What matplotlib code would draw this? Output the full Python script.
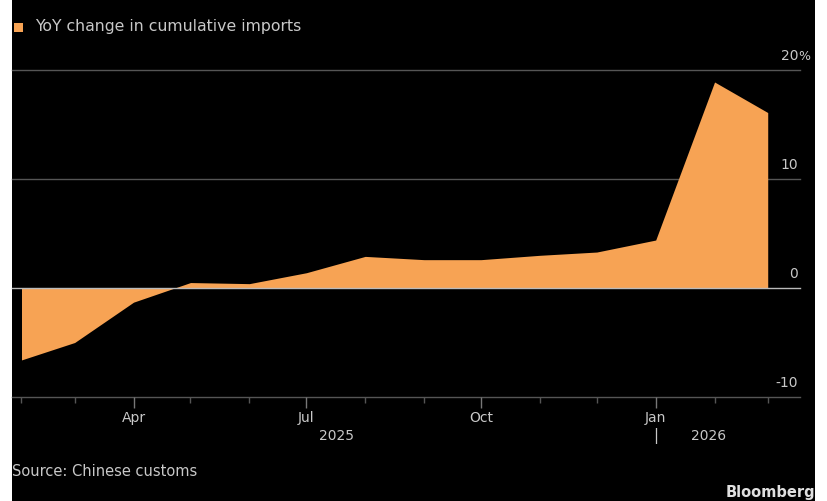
"""YoY change in cumulative imports — Bloomberg-style dark area chart."""
import matplotlib
matplotlib.use("Agg")
import matplotlib.pyplot as plt
import matplotlib.dates as mdates
import numpy as np
import pandas as pd
from matplotlib.patches import Rectangle

# monthly readings, % YoY change in cumulative imports
months = pd.to_datetime(["2025-02-01", "2025-03-01", "2025-04-01", "2025-05-01",
                         "2025-06-01", "2025-07-01", "2025-08-01", "2025-09-01",
                         "2025-10-01", "2025-11-01", "2025-12-01", "2026-01-01",
                         "2026-02-01", "2026-03-01"])
yoy = [-6.6, -5.0, -1.3, 0.5, 0.4, 1.4, 2.9, 2.6,
       2.6, 3.0, 3.3, 4.4, 18.9, 16.1]

y_ticks = [-10, 0, 10, 20]
y_labels = ["-10", "0", "10", "20"]
x_start, x_end = pd.Timestamp("2025-01-27"), pd.Timestamp("2026-03-18")

ORANGE = "#F7A354"
TXT = "#C8C8C8"
W, H = 827, 501

fig = plt.figure(figsize=(W / 100, H / 100), dpi=100)
fig.patch.set_facecolor("white")
# black panel (thin white strips left and right)
fig.patches.append(Rectangle((12 / W, 0), (815 - 12) / W, 1, transform=fig.transFigure,
                             facecolor="black", edgecolor="none", zorder=-5))

ax = fig.add_axes([12 / W, 1 - 397 / H, (800 - 12) / W, (397 - 70) / H])
ax.set_facecolor("none")
ax.set_zorder(2)

ax.fill_between(months, 0, yoy, color=ORANGE, linewidth=0, zorder=2)

ax.set_xlim(x_start, x_end)
ax.set_ylim(-10, 20)

# gridlines + right-side labels sitting above them (the % hangs past the edge)
yt = ax.get_yaxis_transform()
for v, lab in zip(y_ticks, y_labels):
    col = "#BBBBBB" if v == 0 else "#555555"
    ax.axhline(v, color=col, linewidth=1.0, zorder=3 if v == 0 else 1, clip_on=False)
    ax.text(0.9975, v + 0.6, lab, transform=yt,
            ha="right", va="bottom", color=TXT, fontsize=10)
ax.text(0.9975, y_ticks[-1] + 0.6, "%", transform=yt,
        ha="left", va="bottom", color=TXT, fontsize=9)

for s in ax.spines.values():
    s.set_visible(False)
ax.set_yticks([])

ax.xaxis.set_major_locator(mdates.MonthLocator(bymonth=[1, 4, 7, 10]))
ax.xaxis.set_minor_locator(mdates.MonthLocator())
ax.xaxis.set_major_formatter(mdates.DateFormatter("%b"))
ax.tick_params(axis="x", which="major", length=8, width=1, color="#777777",
               labelcolor=TXT, labelsize=10, pad=2)
ax.tick_params(axis="x", which="minor", length=4, width=1, color="#555555")

# year labels under the months
xt = ax.get_xaxis_transform()
ax.text(pd.Timestamp("2025-07-17"), -0.12, "2025", transform=xt,
        ha="center", va="center", color=TXT, fontsize=10)
ax.text(pd.Timestamp("2026-01-29"), -0.12, "2026", transform=xt,
        ha="center", va="center", color=TXT, fontsize=10)
ax.text(pd.Timestamp("2026-01-01"), -0.12, "|", transform=xt,
        ha="center", va="center", color=TXT, fontsize=11)

# legend
fig.patches.append(Rectangle((14 / W, 1 - 32 / H), 9 / W, 9 / H, transform=fig.transFigure,
                             facecolor=ORANGE, edgecolor="none", zorder=3))
fig.text(35 / W, 1 - 27 / H, "YoY change in cumulative imports", color=TXT,
         fontsize=11.3, ha="left", va="center")

# footer
fig.text(12 / W, 1 - 472 / H, "Source: Chinese customs", color=TXT,
         fontsize=10.5, ha="left", va="center")
fig.text(815 / W, 1 - 493 / H, "Bloomberg", color="#E0E0E0", fontsize=10.5,
         fontweight="bold", ha="right", va="center")

fig.savefig("out.png", dpi=100, facecolor=fig.get_facecolor())
